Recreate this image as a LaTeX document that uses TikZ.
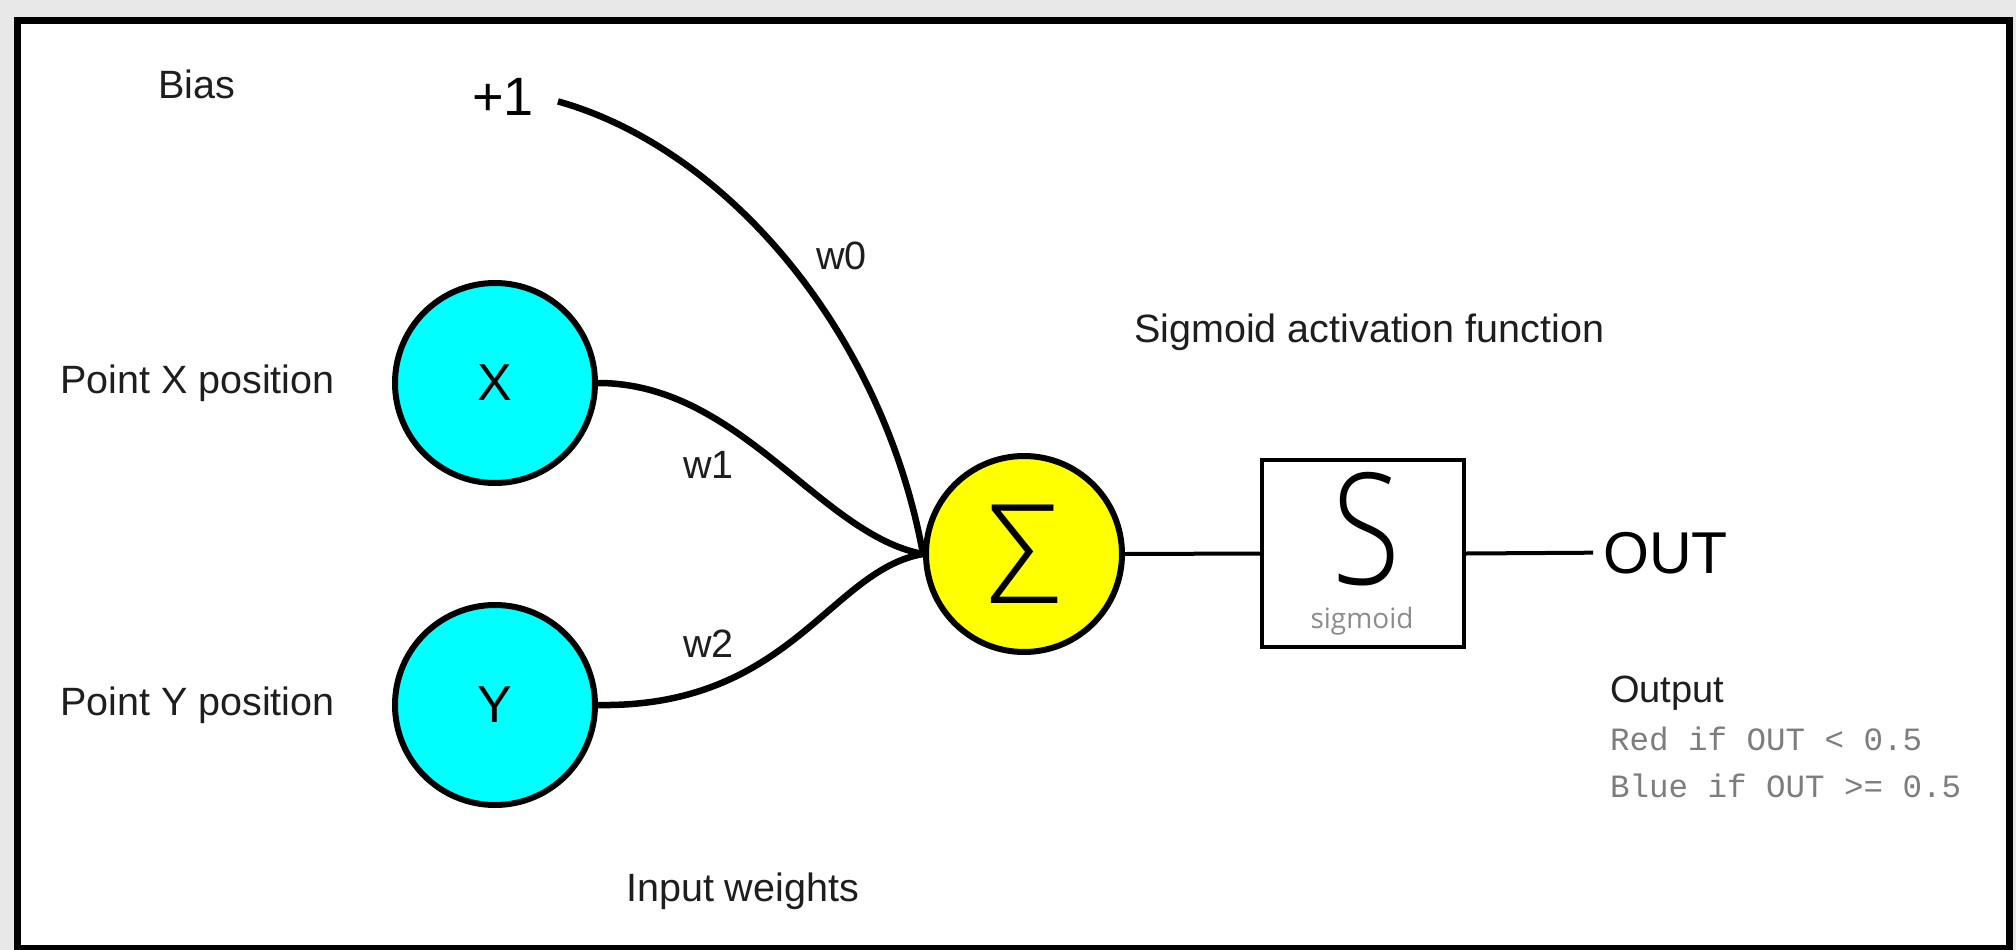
\documentclass[tikz,border=0pt]{standalone}
\usepackage{fontspec}
\setmainfont{Liberation Sans}
\setmonofont{Liberation Mono}
\newfontfamily\lightf{Open Sans Light}
\newfontfamily\opensans{Open Sans}
\definecolor{bggray}{RGB}{232,232,232}
\definecolor{labelgray}{RGB}{30,30,30}
\definecolor{monogray}{RGB}{125,125,125}
\definecolor{siggray}{RGB}{140,140,140}
\definecolor{incyan}{RGB}{0,255,255}
\definecolor{sumyellow}{RGB}{255,255,0}
\begin{document}
\begin{tikzpicture}[x=1pt,y=-1pt,
  inputnode/.style={circle, draw, line width=6pt, fill=incyan, minimum size=200pt, inner sep=0pt, font=\fontsize{52}{60}\selectfont},
  sumnode/.style={circle, draw, line width=6pt, fill=sumyellow, minimum size=196pt, inner sep=0pt},
  actbox/.style={rectangle, draw, line width=4pt, minimum width=202pt, minimum height=187pt, inner sep=0pt},
  lbl/.style={anchor=base west, inner sep=0pt, text=labelgray, font=\fontsize{39.5}{46}\selectfont},
  monolbl/.style={anchor=base west, inner sep=0pt, text=monogray, font=\ttfamily\fontsize{32.5}{38}\selectfont},
  wire/.style={line width=6.5pt},
  thinwire/.style={line width=4pt}]
\useasboundingbox (0,0) rectangle (2016,950);
\fill[bggray] (0,0) rectangle (2016,950);
\draw[line width=7pt, fill=white] (17.5,20.5) rectangle (2009.5,948.5);

% input nodes and end labels
\node[inputnode] (x) at (495,383) {X};
\node[inputnode] (y) at (495,705) {Y};
\node[anchor=base west, inner xsep=0pt, inner ysep=0pt, font=\fontsize{54}{60}\selectfont] (plus) at (472,115) {+1};
\node[anchor=base west, inner xsep=10pt, inner ysep=0pt, font=\fontsize{59}{66}\selectfont] (out) at (1593,573) {OUT};
\coordinate (sumc) at (1024,554);
\coordinate (meet) at (923,554);

% weighted connectors (drawn before the sum node so it sits on top)
\draw[wire] ([xshift=24pt,yshift=-5pt]plus.east) .. controls (725,148) and (882,330) .. (meet);
\draw[wire] (x.east) .. controls (740,383) and (820,535) .. (meet);
\draw[wire] (y.east) .. controls (790,708) and (830,570) .. (meet);

\node[sumnode, font=\lightf\fontsize{138}{146}\selectfont] (sum) at (sumc) {\scalebox{0.95}[1]{Σ}};
\node[actbox] (act) at (1363,553.5) {};
\node[inner sep=0pt, font=\lightf\fontsize{155}{160}\selectfont] (sglyph) at (1366,529) {\scalebox{0.8}[1]{S}};
\node[anchor=base, inner sep=0pt, text=siggray, font=\opensans\fontsize{28}{32}\selectfont] (sigtxt) at (1362,628) {sigmoid};
\draw[thinwire] (sum.east) -- (act.west);
\draw[thinwire] (act.east) -- (out.west);

% labels
\node[lbl] (bias) at (158,99) {Bias};
\node[lbl] (px) at (60,393) {Point X position};
\node[lbl] (py) at (60,715) {Point Y position};
\node[lbl] (w0) at (816,269) {w0};
\node[lbl] (w1) at (683,478) {w1};
\node[lbl] (w2) at (683,657) {w2};
\node[lbl] (inw) at (626,901) {Input weights};
\node[lbl] (saf) at (1134,342) {Sigmoid activation function};
\node[lbl, font=\fontsize{38}{44}\selectfont] (outp) at (1610,702) {Output};
\node[monolbl] (red) at (1610,750) {Red if OUT < 0.5};
\node[monolbl] (blue) at (1610,797) {Blue if OUT >= 0.5};
\end{tikzpicture}
\end{document}
